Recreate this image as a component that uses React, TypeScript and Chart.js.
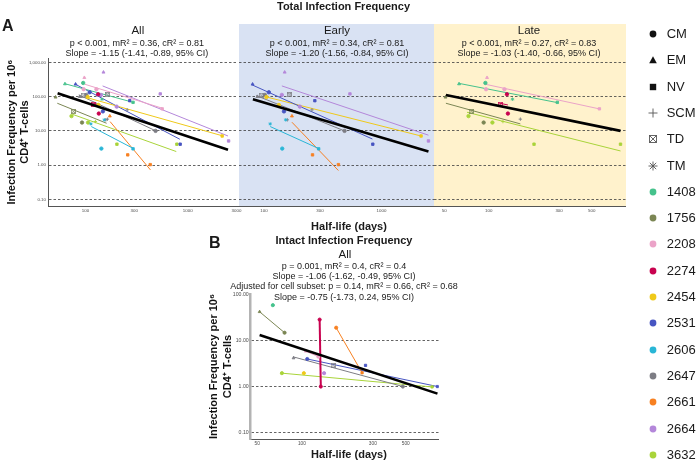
import React, { useEffect, useRef } from 'react';
import { Chart, registerables } from 'chart.js';

Chart.register(...registerables);

const FONT = '"Liberation Sans", Arial, Helvetica, sans-serif';

// ---- Legend / participants ----
const participantIds = ['1408', '1756', '2208', '2274', '2454', '2531', '2606', '2647', '2661', '2664', '3632'];
const participantColors = ['#45c28c', '#7b8654', '#eba3c8', '#c8024f', '#efc91a', '#4755c2', '#29b6d6', '#7d7d84', '#f78021', '#b487da', '#a9d43a'];
const cellSubsets = ['CM', 'EM', 'NV', 'SCM', 'TD', 'TM'];
const subsetPointStyles = ['circle', 'triangle', 'rect', 'cross', 'boxX', 'star'];

// ---- Axis ticks ----
const freqTickValues = [0.1, 1, 10, 100, 1000];
const freqTickLabels = ['0.10', '1.00', '10.00', '100.00', '1,000.00'];
const intactFreqTickValues = [0.1, 1, 10, 100];
const intactFreqTickLabels = ['0.10', '1.00', '10.00', '100.00'];
const allHalfLifeTicks = [100, 300, 1000, 3000];
const earlyHalfLifeTicks = [100, 300, 1000];
const lateHalfLifeTicks = [50, 100, 300, 500];
const intactHalfLifeTicks = [50, 100, 300, 500];

// ---- Statistics text ----
const allStats = ['p < 0.001, mR² = 0.36, cR² = 0.81', 'Slope = -1.15 (-1.41, -0.89, 95% CI)'];
const earlyStats = ['p < 0.001, mR² = 0.34, cR² = 0.81', 'Slope = -1.20 (-1.56, -0.84, 95% CI)'];
const lateStats = ['p < 0.001, mR² = 0.27, cR² = 0.83', 'Slope = -1.03 (-1.40, -0.66, 95% CI)'];
const intactStats = [
  'p = 0.001, mR² = 0.4, cR² = 0.4',
  'Slope = -1.06 (-1.62, -0.49, 95% CI)',
  'Adjusted for cell subset: p = 0.14, mR² = 0.66, cR² = 0.68',
  'Slope = -0.75 (-1.73, 0.24, 95% CI)',
];

// ---- Points: [participant, half-life (days), frequency per 10^6, subset] ----
type Pt = [string, number, number, string];
const earlyPoints: Pt[] = [
  ['2531', 80, 229, 'EM'], ['2531', 110, 134, 'CM'], ['2531', 271, 76, 'NV'], ['2531', 148, 37, 'CM'], ['2531', 844, 4.1, 'NV'],
  ['2664', 150, 512, 'EM'], ['2664', 142, 112, 'CM'], ['2664', 202, 51, 'CM'], ['2664', 539, 120, 'NV'], ['2664', 2512, 5.1, 'NV'],
  ['2647', 88, 100, 'EM'], ['2647', 95, 110, 'TD'], ['2647', 102, 112, 'CM'], ['2647', 164, 112, 'TD'], ['2647', 158, 21, 'SCM'], ['2647', 256, 41, 'SCM'], ['2647', 485, 10, 'CM'],
  ['2454', 105, 97, 'CM'], ['2454', 134, 57, 'CM'], ['2454', 2173, 7.1, 'NV'],
  ['2606', 113, 16, 'TM'], ['2606', 143, 3.05, 'CM'], ['2606', 153, 21, 'TM'], ['2606', 292, 3.0, 'NV'],
  ['2661', 173, 27, 'EM'], ['2661', 259, 2.0, 'NV'], ['2661', 430, 1.04, 'NV'],
];
const latePoints: Pt[] = [
  ['1408', 63, 234, 'EM'], ['1408', 95, 250, 'CM'], ['1408', 145, 84, 'TM'], ['1408', 292, 68, 'NV'],
  ['2208', 97.5, 357, 'EM'], ['2208', 96, 164, 'CM'], ['2208', 128, 164, 'CM'], ['2208', 563, 44, 'NV'],
  ['2274', 133, 117, 'CM'], ['2274', 120, 60, 'TD'], ['2274', 135, 32, 'CM'],
  ['1756', 51, 96, 'EM'], ['1756', 76, 37, 'TD'], ['1756', 92.5, 17.5, 'CM'],
  ['2647', 164, 22, 'SCM'],
  ['3632', 73, 27, 'CM'], ['3632', 106, 17.5, 'CM'], ['3632', 125, 18.7, 'SCM'], ['3632', 203, 4.1, 'NV'], ['3632', 783, 4.1, 'NV'],
];
const intactPoints: Pt[] = [
  ['1756', 51.9, 43, 'EM'], ['1756', 76.4, 15, 'CM'],
  ['1408', 63.7, 60, 'CM'],
  ['2274', 131.6, 29, 'CM'], ['2274', 134, 1.0, 'CM'],
  ['2661', 170, 19.3, 'CM'], ['2661', 254, 2.0, 'NV'],
  ['2531', 108.6, 4.0, 'CM'], ['2531', 268, 2.9, 'NV'], ['2531', 817, 1.0, 'NV'],
  ['2647', 87.8, 4.2, 'EM'], ['2647', 162, 2.9, 'TD'], ['2647', 478, 1.0, 'CM'],
  ['2208', 106, 5.9, 'EM'], ['2208', 129, 4.5, 'CM'],
  ['2664', 141, 1.96, 'CM'],
  ['2454', 103, 1.96, 'CM'],
  ['3632', 73.3, 1.96, 'CM'], ['3632', 752, 0.98, 'NV'],
];

// ---- Fitted lines: [participant, x1, y1, x2, y2] ----
type Fit = [string, number, number, number, number];
const allFits: Fit[] = [
  ['1408', 64, 234, 292, 68], ['1756', 53, 64, 161, 16.7], ['2208', 98.5, 229, 566, 45.7], ['2274', 119, 64, 135, 57],
  ['2454', 104, 93, 2218, 7.1], ['2531', 82, 219, 838, 5.7], ['2606', 114, 13.4, 292, 3.1], ['2647', 86, 112, 489, 10],
  ['2661', 174, 18.7, 432, 0.73], ['2664', 147, 205, 2478, 7.1], ['3632', 74.5, 30.5, 773, 2.5],
];
const earlyFits: Fit[] = [
  ['2531', 79.4, 219, 837, 5.8], ['2664', 142, 205, 2512, 7.5], ['2647', 86, 107, 485, 10],
  ['2454', 102, 100, 2173, 7.1], ['2606', 113, 13.4, 296, 3.0], ['2661', 173, 17.9, 430, 0.7],
];
const lateFits: Fit[] = [
  ['1408', 62.5, 244, 292, 66.8], ['2208', 95, 229, 563, 43.8], ['2274', 119, 64, 135, 57],
  ['1756', 51.3, 64, 164, 16], ['3632', 71.3, 35, 783, 2.6],
];
const intactFits: Fit[] = [
  ['1756', 51.9, 43, 76.4, 15], ['2274', 131.6, 29, 134, 1.0], ['2661', 170, 19.3, 254, 2.0],
  ['2531', 108.6, 4.0, 817, 1.0], ['2647', 87, 4.47, 478, 1.0], ['2208', 106, 5.9, 129.5, 4.5], ['3632', 73.3, 1.96, 752, 0.98],
];
const allOverallFit = [53.4, 125, 2478, 2.8];
const earlyOverallFit = [80.5, 83.6, 2512, 2.5];
const lateOverallFit = [51.3, 112, 783, 10];
const intactOverallFit = [51.9, 13.3, 817, 0.7];

// ---- helpers ----
const boxXCache: Record<string, HTMLCanvasElement> = {};
function boxXImage(color: string, r: number) {
  const key = color + r;
  if (boxXCache[key]) return boxXCache[key];
  const size = Math.round(r * 2 + 2);
  const c = document.createElement('canvas');
  c.width = size; c.height = size;
  const ctx = c.getContext('2d')!;
  ctx.strokeStyle = color; ctx.lineWidth = 0.8;
  ctx.strokeRect(0.5, 0.5, size - 1, size - 1);
  ctx.beginPath(); ctx.moveTo(0.5, 0.5); ctx.lineTo(size - 0.5, size - 0.5);
  ctx.moveTo(size - 0.5, 0.5); ctx.lineTo(0.5, size - 0.5); ctx.stroke();
  boxXCache[key] = c;
  return c;
}
function pointStyleFor(subset: string, color: string, r: number): any {
  const s = subsetPointStyles[cellSubsets.indexOf(subset)];
  return s === 'boxX' ? boxXImage(color, r) : s;
}

const facetBackground = {
  id: 'facetBackground',
  beforeDraw(chart: any, _args: any, opts: any) {
    if (!opts || !opts.color) return;
    const { ctx, chartArea } = chart;
    ctx.save();
    ctx.fillStyle = opts.color;
    ctx.fillRect(chartArea.left, 0, chartArea.right - chartArea.left, chartArea.bottom);
    ctx.restore();
  },
};

function buildConfig(o: any): any {
  const datasets: any[] = [];
  datasets.push({
    label: 'Overall fit',
    data: [{ x: o.overall[0], y: o.overall[1] }, { x: o.overall[2], y: o.overall[3] }],
    showLine: true, borderColor: '#000', borderWidth: o.overallWidth, pointRadius: 0, order: 0,
  });
  participantIds.forEach((id, i) => {
    const color = participantColors[i];
    const pts = (o.points as Pt[]).filter((p) => p[0] === id);
    if (!pts.length) return;
    datasets.push({
      label: id,
      data: pts.map((p) => ({ x: p[1], y: p[2] })),
      pointStyle: pts.map((p) => pointStyleFor(p[3], color, o.radius)),
      pointRadius: o.radius, backgroundColor: color, borderColor: color, borderWidth: 0.9,
      showLine: false, order: 1,
    });
  });
  (o.fits as Fit[]).forEach((f) => {
    const color = participantColors[participantIds.indexOf(f[0])];
    datasets.push({
      label: f[0] + ' fit',
      data: [{ x: f[1], y: f[2] }, { x: f[3], y: f[4] }],
      showLine: true, borderColor: color, borderWidth: o.thick && f[0] === '2274' ? 2 : 1, pointRadius: 0, order: 2,
    });
  });
  return {
    type: 'scatter',
    data: { datasets },
    plugins: [facetBackground],
    options: {
      animation: false, responsive: false, events: [],
      layout: { padding: o.padding, autoPadding: false },
      plugins: {
        legend: { display: false }, tooltip: { enabled: false }, title: { display: false },
        facetBackground: { color: o.bg },
      },
      scales: {
        x: {
          type: 'logarithmic', min: o.xMin, max: o.xMax,
          afterBuildTicks: (s: any) => { s.ticks = o.xTicks.map((v: number) => ({ value: v })); },
          afterFit: (s: any) => { s.height = o.xHeight; },
          ticks: {
            autoSkip: false, maxRotation: 0, minRotation: 0, padding: 2, color: '#4d4d4d',
            font: { family: FONT, size: o.xTickSize }, callback: (v: any) => String(v),
          },
          grid: { display: false, drawTicks: false },
          border: { display: true, color: o.xBorderColor, width: o.xBorderWidth },
        },
        y: {
          type: 'logarithmic', min: o.yMin, max: o.yMax,
          afterBuildTicks: (s: any) => { s.ticks = o.yTicks.map((v: number) => ({ value: v })); },
          afterFit: (s: any) => { s.width = o.yWidth; },
          ticks: {
            display: o.showY, padding: 2, color: '#4d4d4d', font: { family: FONT, size: o.yTickSize },
            callback: (v: any) => o.yLabels[o.yTicks.indexOf(v)],
          },
          grid: {
            color: (c: any) => (o.hideTop && c.tick && c.tick.value === o.yTicks[o.yTicks.length - 1] ? 'rgba(0,0,0,0)' : '#3c3c3c'),
            lineWidth: 0.8, drawTicks: false,
          },
          border: { display: o.showY, color: o.yBorderColor, width: o.yBorderWidth, dash: [2.5, 2] },
          title: {
            display: !!o.yTitle, text: o.yTitle, color: '#111',
            font: { family: FONT, size: 11, weight: 'bold', lineHeight: 1.2 },
            padding: { top: o.yTitlePad, bottom: 0 },
          },
        },
      },
    },
  };
}

const yTitleLines = ['Infection Frequency per 10⁶', 'CD4⁺ T-cells'];

const Txt = ({ x, y, size, bold, children, left }: any) => (
  <div
    style={{
      position: 'absolute', left: x, top: y - size, height: size * 2, lineHeight: `${size * 2}px`,
      transform: left ? undefined : 'translateX(-50%)', whiteSpace: 'nowrap', fontFamily: FONT,
      fontSize: size, fontWeight: bold ? 700 : 400, color: '#1a1a1a',
    }}
  >
    {children}
  </div>
);

function LegendIcon({ kind, color }: { kind: string; color?: string }) {
  const c = color || '#111';
  const g = '#555';
  let el: any = null;
  if (kind === 'circle') el = <circle cx={6} cy={6} r={3.4} fill={c} />;
  else if (kind === 'triangle') el = <polygon points="6,2.3 9.8,9.2 2.2,9.2" fill={c} />;
  else if (kind === 'rect') el = <rect x={2.8} y={2.8} width={6.4} height={6.4} fill={c} />;
  else if (kind === 'cross') el = <path d="M6 1.5V10.5M1.5 6H10.5" stroke={g} strokeWidth={0.9} />;
  else if (kind === 'boxX')
    el = (
      <g stroke={g} strokeWidth={0.9} fill="none">
        <rect x={2.5} y={2.5} width={7} height={7} />
        <path d="M2.5 2.5L9.5 9.5M9.5 2.5L2.5 9.5" />
      </g>
    );
  else if (kind === 'star') el = <path d="M6 1.5V10.5M1.5 6H10.5M2.8 2.8L9.2 9.2M9.2 2.8L2.8 9.2" stroke={g} strokeWidth={0.9} />;
  return (
    <svg width={12} height={12} style={{ display: 'block' }}>
      {el}
    </svg>
  );
}

export default function App() {
  const allRef = useRef<HTMLCanvasElement>(null);
  const earlyRef = useRef<HTMLCanvasElement>(null);
  const lateRef = useRef<HTMLCanvasElement>(null);
  const intactRef = useRef<HTMLCanvasElement>(null);

  useEffect(() => {
    const aBase = {
      yMin: 0.0646, yMax: 1317, yTicks: freqTickValues, yLabels: freqTickLabels,
      xHeight: 12, xTickSize: 4.4, yTickSize: 4.4, radius: 1.7, overallWidth: 2.6,
      xBorderColor: '#555', xBorderWidth: 1, yBorderColor: '#555', yBorderWidth: 1,
    };
    const charts = [
      new Chart(allRef.current!, buildConfig({
        ...aBase, points: [...earlyPoints, ...latePoints], fits: allFits, overall: allOverallFit,
        xMin: 43, xMax: 3104, xTicks: allHalfLifeTicks, showY: true, yWidth: 48, yTitle: yTitleLines, yTitlePad: 5.4,
        padding: { top: 34.2, right: 14, left: 0, bottom: 0 },
      })),
      new Chart(earlyRef.current!, buildConfig({
        ...aBase, points: earlyPoints, fits: earlyFits, overall: earlyOverallFit,
        xMin: 61.3, xMax: 2800, xTicks: earlyHalfLifeTicks, showY: false, yWidth: 0,
        padding: { top: 34.2, right: 0, left: 0, bottom: 0 }, bg: '#d9e2f3',
      })),
      new Chart(lateRef.current!, buildConfig({
        ...aBase, points: latePoints, fits: lateFits, overall: lateOverallFit,
        xMin: 42.6, xMax: 853, xTicks: lateHalfLifeTicks, showY: false, yWidth: 0,
        padding: { top: 34.2, right: 0, left: 0, bottom: 0 }, bg: '#fff2cc',
      })),
      new Chart(intactRef.current!, buildConfig({
        points: intactPoints, fits: intactFits, overall: intactOverallFit, thick: true,
        xMin: 45.2, xMax: 833, xTicks: intactHalfLifeTicks,
        yMin: 0.0714, yMax: 105.2, yTicks: intactFreqTickValues, yLabels: intactFreqTickLabels, hideTop: true,
        showY: true, yWidth: 50.7, yTitle: yTitleLines, yTitlePad: 7.7,
        xHeight: 10, xTickSize: 4.8, yTickSize: 5.2, radius: 1.6, overallWidth: 2.6,
        xBorderColor: '#555', xBorderWidth: 1, yBorderColor: '#b3b3b3', yBorderWidth: 2.5,
        padding: { top: 9, right: 6.3, left: 0, bottom: 0 },
      })),
    ];
    return () => charts.forEach((c) => c.destroy());
  }, []);

  const legendItems: { label: string; kind: string; color?: string }[] = [
    ...cellSubsets.map((s, i) => ({ label: s, kind: subsetPointStyles[i] })),
    ...participantIds.map((id, i) => ({ label: id, kind: 'circle', color: participantColors[i] })),
  ];

  const cv = (ref: any, left: number, top: number, w: number, h: number, z: number) => (
    <canvas ref={ref} width={w} height={h} style={{ position: 'absolute', left, top, width: w, height: h, zIndex: z }} />
  );

  return (
    <div style={{ position: 'fixed', left: 0, top: 0, width: 696, height: 462, background: '#fff', overflow: 'hidden' }}>
      {cv(earlyRef, 239, 24, 195, 194, 1)}
      {cv(lateRef, 434, 24, 192, 194, 1)}
      {cv(allRef, 0, 24, 252, 194, 2)}
      {cv(intactRef, 200, 285, 245, 164, 2)}

      <div style={{ position: 'absolute', inset: 0, zIndex: 3 }}>
        <Txt x={343.5} y={5.7} size={11} bold>Total Infection Frequency</Txt>
        <Txt x={2} y={26} size={16} bold left>A</Txt>
        <Txt x={137.8} y={30.7} size={11.5}>All</Txt>
        <Txt x={136.8} y={43.3} size={9}>{allStats[0]}</Txt>
        <Txt x={136.8} y={53.3} size={9}>{allStats[1]}</Txt>
        <Txt x={337} y={30.7} size={11.5}>Early</Txt>
        <Txt x={337} y={43.3} size={9}>{earlyStats[0]}</Txt>
        <Txt x={337} y={53.3} size={9}>{earlyStats[1]}</Txt>
        <Txt x={529} y={30.7} size={11.5}>Late</Txt>
        <Txt x={529} y={43.3} size={9}>{lateStats[0]}</Txt>
        <Txt x={529} y={53.3} size={9}>{lateStats[1]}</Txt>
        <Txt x={349} y={225.7} size={11} bold>Half-life (days)</Txt>

        <Txt x={209} y={242.5} size={16} bold left>B</Txt>
        <Txt x={344} y={240} size={11} bold>Intact Infection Frequency</Txt>
        <Txt x={345} y={254.6} size={11.5}>All</Txt>
        <Txt x={344} y={266.3} size={9}>{intactStats[0]}</Txt>
        <Txt x={344} y={276.3} size={9}>{intactStats[1]}</Txt>
        <Txt x={344} y={286.2} size={9}>{intactStats[2]}</Txt>
        <Txt x={344} y={296.5} size={9}>{intactStats[3]}</Txt>
        <Txt x={349} y={454} size={11} bold>Half-life (days)</Txt>

        {legendItems.map((it, i) => {
          const cy = 34 + 26.3 * i;
          return (
            <React.Fragment key={it.label}>
              <div style={{ position: 'absolute', left: 646.7, top: cy - 6 }}>
                <LegendIcon kind={it.kind} color={it.color} />
              </div>
              <Txt x={666.7} y={cy} size={13} left>{it.label}</Txt>
            </React.Fragment>
          );
        })}
      </div>
    </div>
  );
}
